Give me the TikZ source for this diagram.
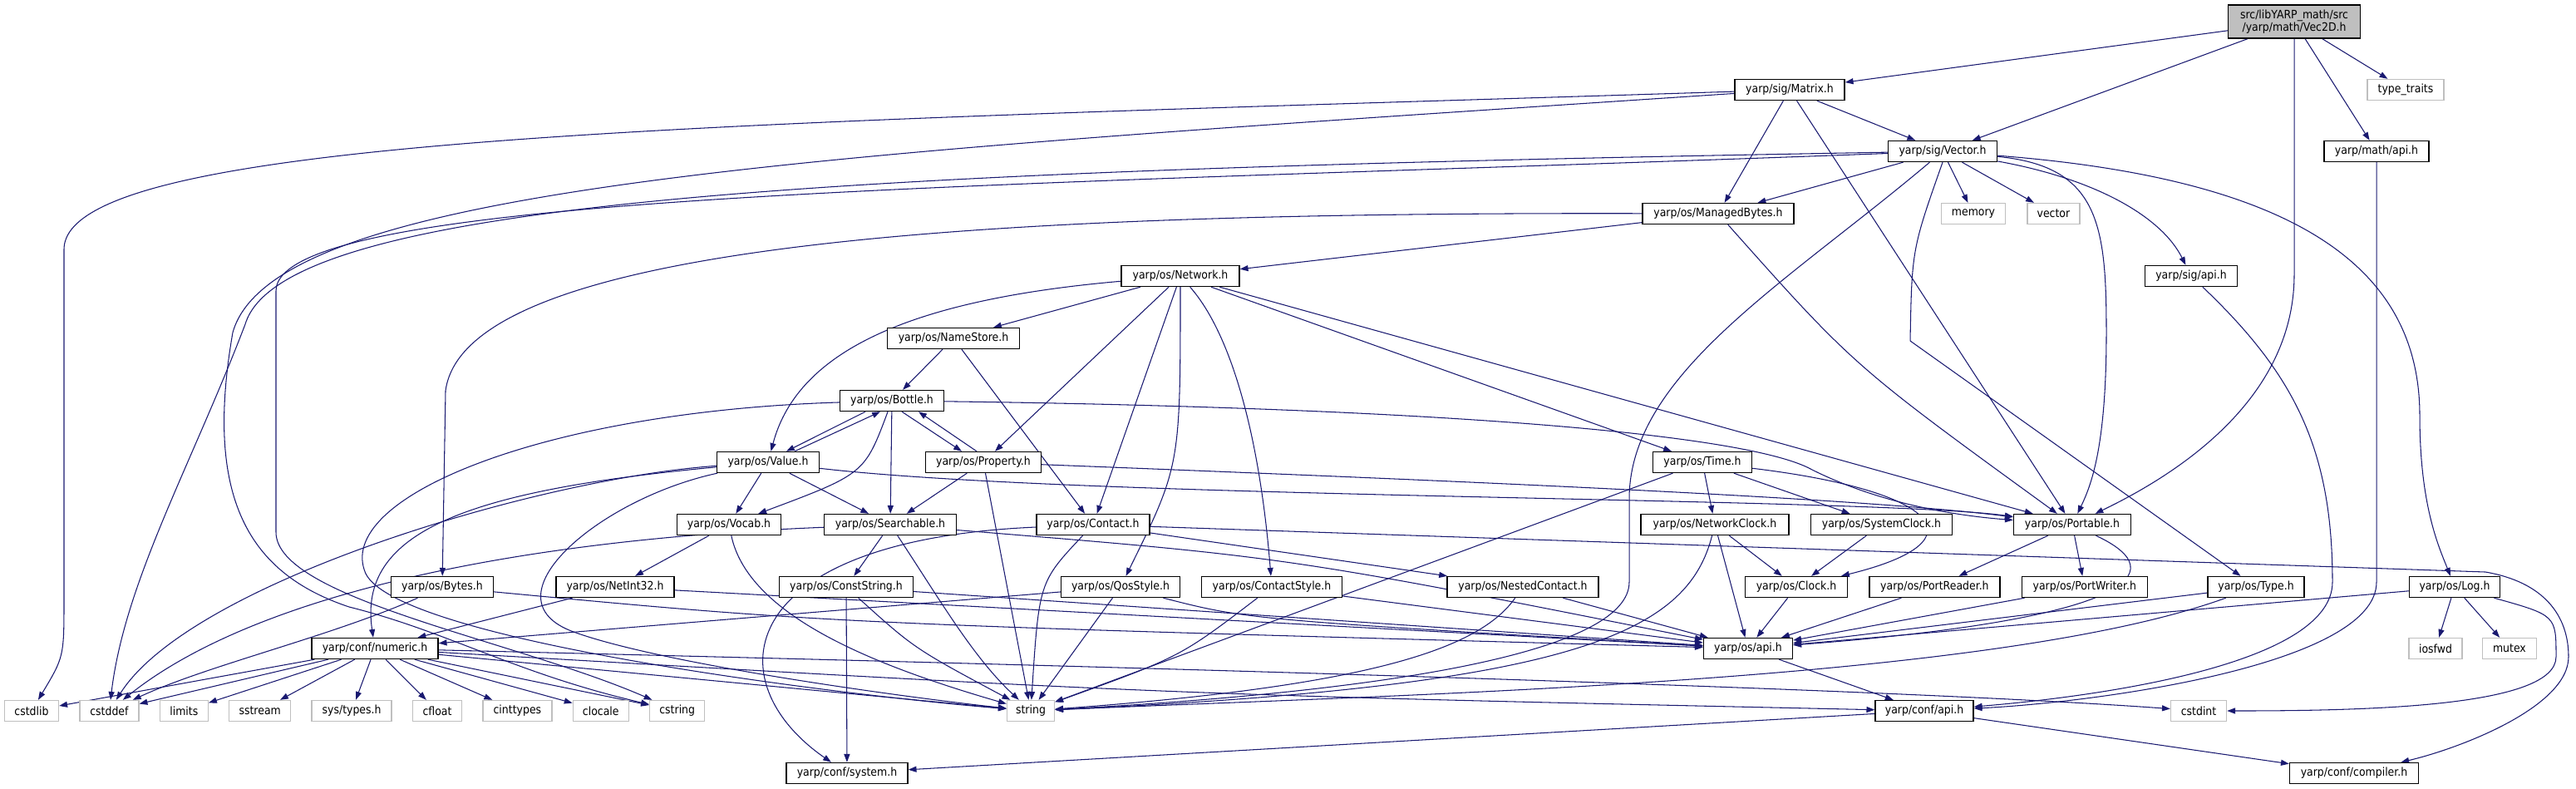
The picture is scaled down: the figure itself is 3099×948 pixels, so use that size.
\documentclass[tikz,border=0pt]{standalone}
\usepackage{fontspec}
\setmainfont{DejaVu Sans}[FakeStretch=0.9]
\usetikzlibrary{arrows.meta,positioning,calc,backgrounds}
\definecolor{edgecolor}{RGB}{25,25,112}
\definecolor{syscolor}{RGB}{191,191,191}
\definecolor{rootcolor}{RGB}{191,191,191}

\begin{document}
\begin{tikzpicture}[
    x=0.02cm, y=-0.02cm,
    font=\fontsize{7.9pt}{8.6pt}\selectfont,
    hdr/.style={rectangle, draw=black, line width=0.8pt, fill=white, inner sep=0pt, minimum height=0.5cm, minimum width=#1*0.02cm},
    sys/.style={hdr=#1, draw=syscolor},
    root/.style={hdr=#1, fill=rootcolor, minimum height=0.8cm, align=center},
    dep/.style={draw=edgecolor, line width=0.6pt, -{Triangle[length=5.6pt, width=4pt]}},
    node distance=0.48cm
]
\useasboundingbox (0,0) rectangle (3099,948);

% Root file
\node[root=159] (vec2d) at (2760,26) {src/libYARP\_math/src\\/yarp/math/Vec2D.h};

% yarp/sig and yarp/math
\node[hdr=132] (matrix) at (2153,108) {yarp/sig/Matrix.h};
\node[sys=92] (typetraits) at (2894,108) {type\_traits};
\node[hdr=131] (vector) at (2337,182) {yarp/sig/Vector.h};
\node[hdr=126] (mathapi) at (2859,182) {yarp/math/api.h};
\node[hdr=182] (managedbytes) at (2067,257) {yarp/os/ManagedBytes.h};
\node[sys=77] (memory) at (2374,257) {memory};
\node[sys=63, right=0.5cm of memory] (stdvector) {vector};
\node[hdr=142] (network) at (1420,332) {yarp/os/Network.h};
\node[hdr=111] (sigapi) at (2636,332) {yarp/sig/api.h};

% yarp/os headers
\node[hdr=159] (namestore) at (1147,407) {yarp/os/NameStore.h};
\node[hdr=125] (bottle) at (1073,482) {yarp/os/Bottle.h};
\node[hdr=123] (value) at (924,556) {yarp/os/Value.h};
\node[hdr=139] (property) at (1183,556) {yarp/os/Property.h};
\node[hdr=119] (time) at (2048,556) {yarp/os/Time.h};
\node[hdr=125] (vocab) at (877,631) {yarp/os/Vocab.h};
\node[hdr=159] (searchable) at (1071,631) {yarp/os/Searchable.h};
\node[hdr=136] (contact) at (1315,631) {yarp/os/Contact.h};
\node[hdr=178] (networkclock) at (2063,631) {yarp/os/NetworkClock.h};
\node[hdr=170, right=0.5cm of networkclock] (systemclock) {yarp/os/SystemClock.h};
\node[hdr=141] (portable) at (2493,631) {yarp/os/Portable.h};
\node[hdr=123] (bytes) at (532,706) {yarp/os/Bytes.h};
\node[hdr=142] (netint32) at (740,706) {yarp/os/NetInt32.h};
\node[hdr=161] (conststring) at (1018,706) {yarp/os/ConstString.h};
\node[hdr=143] (qosstyle) at (1348,706) {yarp/os/QosStyle.h};
\node[hdr=169] (contactstyle) at (1530,706) {yarp/os/ContactStyle.h};
\node[hdr=182] (nestedcontact) at (1832,706) {yarp/os/NestedContact.h};
\node[hdr=123] (clock) at (2161,706) {yarp/os/Clock.h};
\node[hdr=157, right=0.5cm of clock] (portreader) {yarp/os/PortReader.h};
\node[hdr=151, right=0.5cm of portreader] (portwriter) {yarp/os/PortWriter.h};
\node[hdr=116] (type) at (2714,706) {yarp/os/Type.h};
\node[hdr=109] (log) at (2953,706) {yarp/os/Log.h};
\node[hdr=152] (numeric) at (451,780) {yarp/conf/numeric.h};
\node[hdr=107] (osapi) at (2103,780) {yarp/os/api.h};
\node[sys=64] (iosfwd) at (2930,780) {iosfwd};
\node[sys=65, right=0.46cm of iosfwd] (mutex) {mutex};

% System headers and yarp/conf
\node[sys=65] (cstdlib) at (38,855) {cstdlib};
\node[sys=71, right=of cstdlib] (cstddef) {cstddef};
\node[sys=58, right=of cstddef] (limits) {limits};
\node[sys=74, right=of limits] (sstream) {sstream};
\node[sys=96, right=of sstream] (systypes) {sys/types.h};
\node[sys=59, right=of systypes] (cfloat) {cfloat};
\node[sys=83, right=of cfloat] (cinttypes) {cinttypes};
\node[sys=67, right=of cinttypes] (clocale) {clocale};
\node[sys=66, right=of clocale] (cstring) {cstring};
\node[sys=57] (string) at (1240,855) {string};
\node[hdr=118] (confapi) at (2315,855) {yarp/conf/api.h};
\node[sys=67] (cstdint) at (2645,855) {cstdint};
\node[hdr=146] (system) at (1019,930) {yarp/conf/system.h};
\node[hdr=155] (compiler) at (2832,930) {yarp/conf/compiler.h};

\begin{scope}[on background layer]
% Vec2D.h
\draw[dep] (vec2d) -- (matrix);
\draw[dep] (vec2d) -- (vector);
\draw[dep] (vec2d) -- (typetraits);
\draw[dep] (vec2d) -- (mathapi);
\draw[dep] (vec2d.south) -- (2760,330) .. controls (2760,480) and (2620,570) .. (portable);

% Matrix.h
\draw[dep] (matrix) -- (vector);
\draw[dep] (matrix) -- (managedbytes);
\draw[dep] (matrix) -- (portable);
\draw[dep] (matrix) .. controls (900,148) and (77,160) .. (77,300) -- (77,720) .. controls (77,790) .. (cstdlib);
\draw[dep] (matrix) .. controls (1000,185) and (330,220) .. (280,400) .. controls (245,600) and (300,690) .. (420,730) .. controls (540,760) and (620,810) .. (cstring);

% Vector.h
\draw[dep] (vector) -- (managedbytes);
\draw[dep] (vector) -- (memory);
\draw[dep] (vector) -- (stdvector);
\draw[dep] (vector) .. controls (2520,215) and (2600,260) .. (sigapi);
\draw[dep] (vector) .. controls (2525,200) and (2534,270) .. (2534,400) .. controls (2534,540) and (2515,585) .. (portable);
\draw[dep] (vector) .. controls (2760,215) and (2911,320) .. (2911,500) .. controls (2911,610) and (2935,660) .. (log);
\draw[dep] (vector.south) .. controls (2300,300) .. (2298,410) -- (type);
\draw[dep] (vector) .. controls (2150,340) and (1960,450) .. (1960,600) -- (1960,700) .. controls (1960,780) and (1700,830) .. (string);
\draw[dep] (vector) .. controls (1000,205) and (340,240) .. (295,390) .. controls (230,560) and (150,700) .. (cstddef);
\draw[dep] (vector) .. controls (1200,225) and (332,230) .. (332,350) -- (332,640) .. controls (332,720) and (620,770) .. (cstring);

% api headers
\draw[dep] (mathapi) -- (2859,700) .. controls (2859,800) and (2520,845) .. (confapi);
\draw[dep] (sigapi) .. controls (2760,450) and (2806,540) .. (2806,700) .. controls (2806,800) and (2520,838) .. (confapi);
\draw[dep] (osapi) -- (confapi);
\draw[dep] (confapi) -- (system);
\draw[dep] (confapi) -- (compiler);

% ManagedBytes.h and Network.h
\draw[dep] (managedbytes) -- (network);
\draw[dep] (managedbytes) .. controls (1200,255) and (560,290) .. (536,470) -- (bytes);
\draw[dep] (managedbytes) .. controls (2230,440) .. (portable);
\draw[dep] (network) -- (namestore);
\draw[dep] (network) .. controls (1100,360) and (960,420) .. (value);
\draw[dep] (network) -- (property);
\draw[dep] (network) -- (contact);
\draw[dep] (network.south) .. controls (1420,560) .. (qosstyle);
\draw[dep] (network) .. controls (1480,400) and (1515,520) .. (contactstyle);
\draw[dep] (network) -- (time);
\draw[dep] (network) -- (portable);
\draw[dep] (namestore) -- (bottle);
\draw[dep] (namestore) -- (contact);

% Bottle.h, Value.h, Property.h
\draw[dep] ($(bottle.south)+(-32,0)$) -- ($(value.north)+(22,0)$);
\draw[dep] ($(value.north)+(32,0)$) -- ($(bottle.south)+(-14,0)$);
\draw[dep] ($(bottle.south)+(12,0)$) -- ($(property.north)+(-26,0)$);
\draw[dep] ($(property.north)+(-8,0)$) -- ($(bottle.south)+(32,0)$);
\draw[dep] (bottle) -- (searchable);
\draw[dep] (bottle) .. controls (1040,570) .. (vocab);
\draw[dep] (bottle) .. controls (1700,490) and (2100,520) .. (2180,565) .. controls (2260,605) and (2350,620) .. (portable);
\draw[dep] (bottle) .. controls (650,495) and (400,600) .. (440,690) .. controls (480,770) and (1000,835) .. (string);
\draw[dep] (value) -- (vocab);
\draw[dep] (value) -- (searchable);
\draw[dep] (value) .. controls (1300,600) and (2250,598) .. (portable);
\draw[dep] (value) .. controls (650,575) and (230,700) .. (cstddef);
\draw[dep] (value) .. controls (560,590) and (430,640) .. (numeric);
\draw[dep] (value) .. controls (720,600) and (580,720) .. (690,760) .. controls (800,800) and (1100,840) .. (string);
\draw[dep] (property) -- (searchable);
\draw[dep] (property) -- (string);
\draw[dep] (property) .. controls (1800,580) and (2250,600) .. (portable);

% Time.h and clocks
\draw[dep] (time) -- (networkclock);
\draw[dep] (time) -- (systemclock);
\draw[dep] (time) .. controls (2330,590) and (2390,650) .. (clock);
\draw[dep] (time) -- (string);
\draw[dep] (networkclock) -- (clock);
\draw[dep] (networkclock) .. controls (2030,760) and (1900,825) .. (string);
\draw[dep] (systemclock) -- (clock);

% Vocab.h, Searchable.h, Contact.h
\draw[dep] (vocab) -- (netint32);
\draw[dep] (vocab) .. controls (900,740) and (1050,800) .. (string);
\draw[dep] (searchable) -- (conststring);
\draw[dep] (searchable) .. controls (1130,720) and (1170,790) .. (string);
\draw[dep] (searchable) .. controls (1550,670) .. (osapi);
\draw[dep] (searchable) .. controls (600,650) and (300,720) .. (cstddef);
\draw[dep] (contact) -- (nestedcontact);
\draw[dep] (contact) .. controls (1250,700) .. (string);
\draw[dep] (contact) .. controls (880,650) and (860,820) .. (system);
\draw[dep] (contact) -- (2990,688) .. controls (3060,700) and (3090,740) .. (3090,790) .. controls (3090,850) and (2960,900) .. (compiler);

% Portable.h
\draw[dep] (portable) -- (portreader);
\draw[dep] (portable) -- (portwriter);
\draw[dep] (portable) .. controls (2620,690) and (2560,745) .. (osapi);

% row of small headers
\draw[dep] (bytes) .. controls (400,765) and (250,800) .. (cstddef);
\draw[dep] (bytes) .. controls (1000,750) .. (osapi);
\draw[dep] (netint32) -- (numeric);
\draw[dep] (conststring) -- (system);
\draw[dep] (conststring) .. controls (1100,780) .. (string);
\draw[dep] (qosstyle) -- (string);
\draw[dep] (qosstyle) .. controls (1500,745) .. (osapi);
\draw[dep] (qosstyle) -- (numeric);
\draw[dep] (contactstyle) .. controls (1420,790) .. (string);
\draw[dep] (nestedcontact) .. controls (1780,780) and (1650,825) .. (string);
\draw[dep] (type) .. controls (2400,820) and (1700,835) .. (string);
\draw[dep] (log) -- (iosfwd);
\draw[dep] (log) -- (mutex);
\draw[dep] (log) .. controls (3075,740) .. (3075,790) .. controls (3075,850) and (2850,855) .. (cstdint);
\foreach \src in {netint32,conststring,contactstyle,nestedcontact,networkclock,clock,portreader,portwriter,type,log}
    \draw[dep] (\src) -- (osapi);

% yarp/conf/numeric.h
\foreach \lib in {cstdlib,cstddef,limits,sstream,systypes,cfloat,cinttypes,clocale,cstring,string}
    \draw[dep] (numeric) -- (\lib);
\draw[dep] (numeric) .. controls (1500,805) and (2300,830) .. (cstdint);
\draw[dep] (numeric) .. controls (1400,835) .. (confapi);
\end{scope}

\end{tikzpicture}
\end{document}
